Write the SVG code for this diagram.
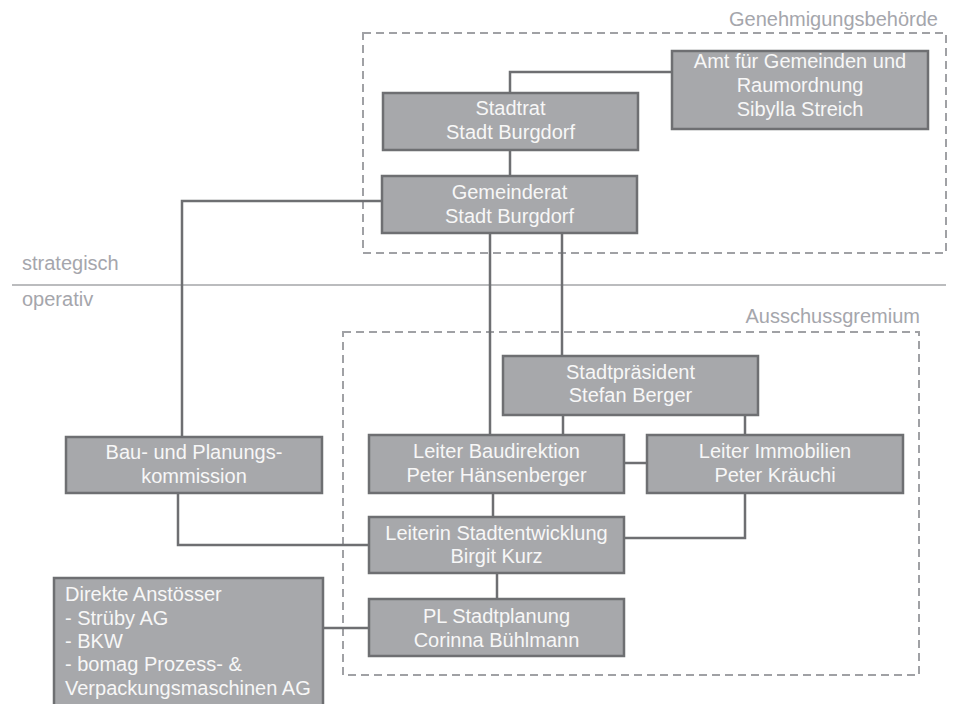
<svg xmlns="http://www.w3.org/2000/svg" width="955" height="704" viewBox="0 0 955 704">
<style>
.box{fill:#a7a8ab;stroke:#6e6f72;stroke-width:2.5}
.t{font-family:"Liberation Sans",Arial,sans-serif;font-size:20px;fill:#f7f7f7;text-anchor:middle}
.tl{font-family:"Liberation Sans",Arial,sans-serif;font-size:20px;fill:#f7f7f7}
.lab{font-family:"Liberation Sans",Arial,sans-serif;font-size:20px;fill:#a5a6ac}
.dash{fill:none;stroke:#a0a1a5;stroke-width:2;stroke-dasharray:8 5}
.con{fill:none;stroke:#6e6f72;stroke-width:2.5}
</style>
<rect width="955" height="704" fill="#ffffff"/>
<g id="zones">
<rect class="dash" x="363" y="33" width="583" height="220"/>
<text class="lab" x="938" y="26" text-anchor="end">Genehmigungsbehörde</text>
<rect class="dash" x="343" y="332" width="576" height="343"/>
<text class="lab" x="920" y="323" text-anchor="end">Ausschussgremium</text>
<line x1="12" y1="285" x2="946" y2="285" stroke="#a5a6a9" stroke-width="1.5"/>
<text class="lab" x="22" y="270">strategisch</text>
<text class="lab" x="22" y="306">operativ</text>
</g>
<g id="connectors">
<path class="con" d="M510,93 V72 H672"/>
<path class="con" d="M510,150 V176"/>
<path class="con" d="M382,201 H182 V437"/>
<path class="con" d="M490,233 V435"/>
<path class="con" d="M562,233 V356"/>
<path class="con" d="M563,415 V435"/>
<path class="con" d="M745,415 V435"/>
<path class="con" d="M624,463 H648"/>
<path class="con" d="M493,493 V517"/>
<path class="con" d="M745,493 V538 H624"/>
<path class="con" d="M178,493 V545 H369"/>
<path class="con" d="M497,573 V599"/>
<path class="con" d="M323,628 H369"/>
</g>
<g id="amt">
<rect class="box" x="672" y="51" width="256" height="78"/>
<text class="t" x="800" y="68">Amt für Gemeinden und</text>
<text class="t" x="800" y="92">Raumordnung</text>
<text class="t" x="800" y="116">Sibylla Streich</text>
</g>
<g id="stadtrat">
<rect class="box" x="383" y="93" width="255" height="57"/>
<text class="t" x="510.5" y="115">Stadtrat</text>
<text class="t" x="510.5" y="139">Stadt Burgdorf</text>
</g>
<g id="gemeinderat">
<rect class="box" x="382" y="176" width="255" height="57"/>
<text class="t" x="509.5" y="199">Gemeinderat</text>
<text class="t" x="509.5" y="223">Stadt Burgdorf</text>
</g>
<g id="stadtpraesident">
<rect class="box" x="503" y="356" width="255" height="59"/>
<text class="t" x="630.5" y="379">Stadtpräsident</text>
<text class="t" x="630.5" y="402">Stefan Berger</text>
</g>
<g id="bau">
<rect class="box" x="66" y="437" width="256" height="56"/>
<text class="t" x="194" y="459">Bau- und Planungs-</text>
<text class="t" x="194" y="483">kommission</text>
</g>
<g id="baudirektion">
<rect class="box" x="369" y="435" width="255" height="58"/>
<text class="t" x="496.5" y="458">Leiter Baudirektion</text>
<text class="t" x="496.5" y="482">Peter Hänsenberger</text>
</g>
<g id="immobilien">
<rect class="box" x="647" y="435" width="256" height="58"/>
<text class="t" x="775" y="458">Leiter Immobilien</text>
<text class="t" x="775" y="482">Peter Kräuchi</text>
</g>
<g id="stadtentwicklung">
<rect class="box" x="369" y="517" width="255" height="56"/>
<text class="t" x="496.5" y="540">Leiterin Stadtentwicklung</text>
<text class="t" x="496.5" y="563">Birgit Kurz</text>
</g>
<g id="stadtplanung">
<rect class="box" x="369" y="599" width="255" height="57"/>
<text class="t" x="496.5" y="623">PL Stadtplanung</text>
<text class="t" x="496.5" y="647">Corinna Bühlmann</text>
</g>
<g id="anstoesser">
<rect class="box" x="54" y="578" width="269" height="140"/>
<text class="tl" x="65" y="601">Direkte Anstösser</text>
<text class="tl" x="65" y="624.5">- Strüby AG</text>
<text class="tl" x="65" y="648">- BKW</text>
<text class="tl" x="65" y="671">- bomag Prozess- &amp;</text>
<text class="tl" x="65" y="694.5">Verpackungsmaschinen AG</text>
</g>
</svg>
